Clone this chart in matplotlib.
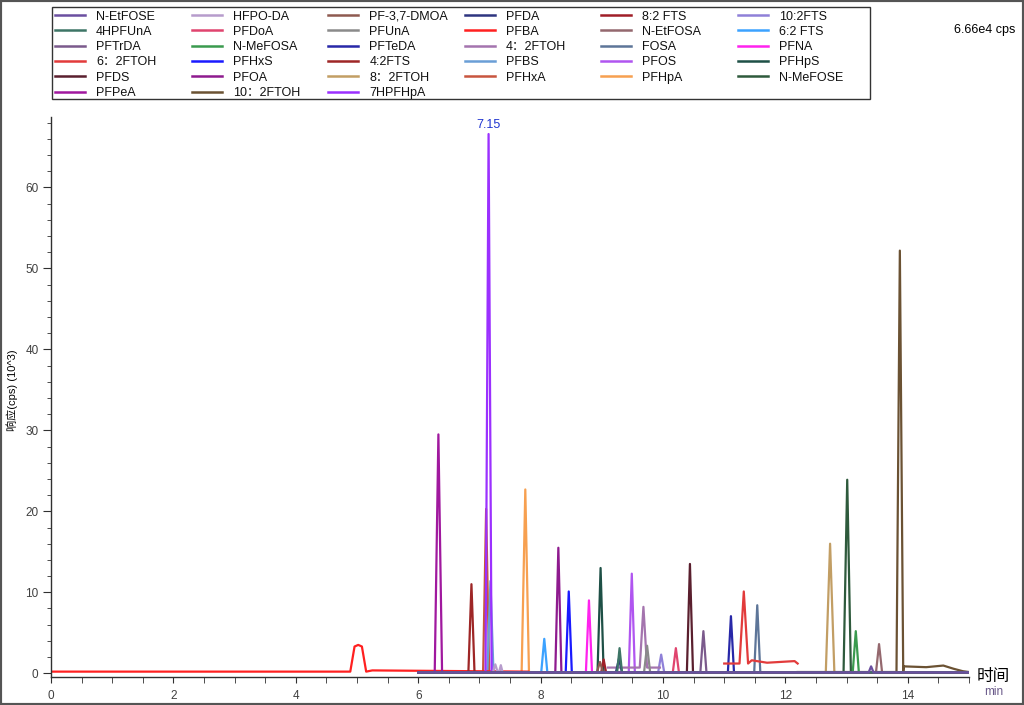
import matplotlib
matplotlib.use("Agg")
import matplotlib.pyplot as plt
from matplotlib.lines import Line2D
from matplotlib.patches import Rectangle
from matplotlib.ticker import MultipleLocator

plt.rcParams['font.family'] = ['Liberation Sans', 'Noto Sans CJK SC']

# Compounds, in legend order (column by column)
names = ["N-EtFOSE", "4HPFUnA", "PFTrDA", "6：2FTOH", "PFDS", "PFPeA",
         "HFPO-DA", "PFDoA", "N-MeFOSA", "PFHxS", "PFOA", "10：2FTOH",
         "PF-3,7-DMOA", "PFUnA", "PFTeDA", "4:2FTS", "8：2FTOH", "7HPFHpA",
         "PFDA", "PFBA", "4：2FTOH", "PFBS", "PFHxA",
         "8:2 FTS", "N-EtFOSA", "FOSA", "PFOS", "PFHpA",
         "10:2FTS", "6:2 FTS", "PFNA", "PFHpS", "N-MeFOSE"]
column_sizes = [6, 6, 6, 5, 5, 5]

colors = ["#6b4fa0", "#3d7566", "#7b5a8c", "#e23b3b", "#5a1f2e", "#a0189e",
          "#b79ccc", "#e0446e", "#3a9a4e", "#1a1aff", "#8e1a8e", "#6b5233",
          "#8e5a50", "#8a8a8a", "#2828a8", "#9e2626", "#c29e64", "#9b30ff",
          "#2e3580", "#ff2020", "#a474ae", "#6a9ed6", "#c8553f",
          "#a01e28", "#94686e", "#5d7598", "#b055f0", "#f7a050",
          "#8f80d8", "#3ca2ff", "#ff22ee", "#1e5046", "#2e5a3c"]

# main peak: retention time (min), height (10^3 cps), half base width (min)
rt = [13.40, 9.29, 10.66, 11.32, 10.44, 6.33,
      7.26, 10.21, 13.15, 8.46, 8.29, 13.87,
      8.97, 9.74, 11.11, 6.87, 12.73, 7.15,
      9.28, 5.02, 9.68, 7.18, 7.11,
      9.03, 13.53, 11.54, 9.49, 7.75,
      9.97, 8.06, 8.79, 8.98, 13.01]
height = [0.85, 3.1, 5.2, 10.1, 13.5, 29.5,
          1.1, 3.1, 5.2, 10.1, 15.5, 52.2,
          1.4, 3.4, 7.05, 11.0, 16.0, 66.6,
          1.8, 3.5, 8.2, 11.4, 20.3,
          1.7, 3.6, 8.4, 12.3, 22.7,
          2.3, 4.25, 9.0, 13.0, 23.9]
half_width = [0.04, 0.04, 0.05, 0.07, 0.05, 0.06,
              0.04, 0.05, 0.05, 0.05, 0.05, 0.055,
              0.05, 0.05, 0.05, 0.05, 0.07, 0.05,
              0.05, 0.13, 0.06, 0.05, 0.05,
              0.04, 0.05, 0.05, 0.05, 0.06,
              0.05, 0.05, 0.05, 0.05, 0.06]

# acquisition window and baseline level of each trace
t_start = [6.0] * 33
t_end = [15.0] * 33
baseline = [0.1] * 33
t_start[names.index("PFBA")], t_end[names.index("PFBA")], baseline[names.index("PFBA")] = 0.0, 7.8, 0.2
t_start[names.index("6：2FTOH")], t_end[names.index("6：2FTOH")], baseline[names.index("6：2FTOH")] = 11.0, 12.2, 1.2
t_start[names.index("4：2FTOH")], t_end[names.index("4：2FTOH")], baseline[names.index("4：2FTOH")] = 9.1, 9.95, 0.7
t_start[names.index("10：2FTOH")], baseline[names.index("10：2FTOH")] = 12.2, 0.15
t_start[names.index("PFDA")], t_end[names.index("PFDA")] = 7.8, 10.0

# smaller secondary peaks: (compound, rt, height, half width)
extra_peaks = [("HFPO-DA", 7.35, 1.0, 0.03)]

# extra trace points: (compound, time, value)
extra_points = [("PFBA", 4.96, 3.3), ("PFBA", 5.08, 3.3), ("PFBA", 5.25, 0.35),
                ("6：2FTOH", 11.45, 1.6), ("6：2FTOH", 11.7, 1.3), ("6：2FTOH", 12.15, 1.5),
                ("10：2FTOH", 13.935, 0.85), ("10：2FTOH", 14.3, 0.75),
                ("10：2FTOH", 14.58, 0.95), ("10：2FTOH", 14.75, 0.55),
                ("10：2FTOH", 14.9, 0.25)]

fig = plt.figure(figsize=(10.24, 7.05), dpi=100)
ax = fig.add_axes([0.0498, 0.0393, 0.8965, 0.7947])

for i in reversed(range(len(names))):
    b = baseline[i]
    pts = [(t_start[i], b), (t_end[i], b)]
    pk = [(rt[i], height[i], half_width[i])]
    pk += [(p[1], p[2], p[3]) for p in extra_peaks if p[0] == names[i]]
    for r, h, w in pk:
        pts += [(r - w, b), (r, h), (r + w, b)]
    pts += [(p[1], p[2]) for p in extra_points if p[0] == names[i]]
    pts.sort()
    ax.plot([p[0] for p in pts], [p[1] for p in pts], color=colors[i],
            lw=1.6, solid_joinstyle='round')

ax.annotate("7.15", (7.15, 66.6), xytext=(0, 2), textcoords="offset points",
            ha="center", va="bottom", color="#2035d0", fontsize=9)

ax.set_xlim(0, 15)
ax.set_ylim(-0.5, 68.7)
ax.xaxis.set_major_locator(MultipleLocator(2))
ax.xaxis.set_minor_locator(MultipleLocator(0.5))
ax.yaxis.set_major_locator(MultipleLocator(10))
ax.yaxis.set_minor_locator(MultipleLocator(2))
for s in ["top", "right"]:
    ax.spines[s].set_visible(False)
for s in ["left", "bottom"]:
    ax.spines[s].set_color("#303030")
    ax.spines[s].set_linewidth(1.0)
ax.tick_params(which="both", direction="out", colors="#303030", labelsize=8.5, labelcolor="#404040")
ax.tick_params(axis="y", which="major", length=5.5, pad=3.5)
ax.tick_params(axis="y", which="minor", length=3)
ax.tick_params(axis="x", which="both", length=4, pad=5.5)

# legend: fixed grid of six columns inside one frame (pixel layout of the original)
W, H = 1024, 705
k = 0
for c, n in enumerate(column_sizes):
    x0 = 55 + 136.6 * c
    for r in range(n):
        y = 1 - (15 + 15.3 * r) / H
        fig.add_artist(Line2D([x0 / W, (x0 + 30) / W], [y, y], color=colors[k],
                              lw=1.8, transform=fig.transFigure))
        fig.text((x0 + 41) / W, y, names[k], ha="left", va="center_baseline",
                 fontsize=9, color="#111111")
        k += 1
fig.add_artist(Rectangle((52 / W, 1 - 99 / H), 818 / W, 92 / H,
                         transform=fig.transFigure, fill=False,
                         edgecolor="#333333", lw=1.0))

fig.text(0.992, 0.957, "6.66e4 cps", ha="right", va="center", fontsize=9)
fig.text(0.970, 0.040, "时间", ha="center", va="center", fontsize=12)
fig.text(0.970, 0.018, "min", ha="center", va="center", fontsize=8.5, color="#6a5a8a")
fig.text(0.012, 0.447, "响应(cps) (10^3)", rotation=90, ha="center", va="center", fontsize=8)

fig.add_artist(Rectangle((0, 0), 1, 1, transform=fig.transFigure, fill=False,
                         edgecolor="#555555", lw=3))

fig.savefig("out.png", dpi=100)
